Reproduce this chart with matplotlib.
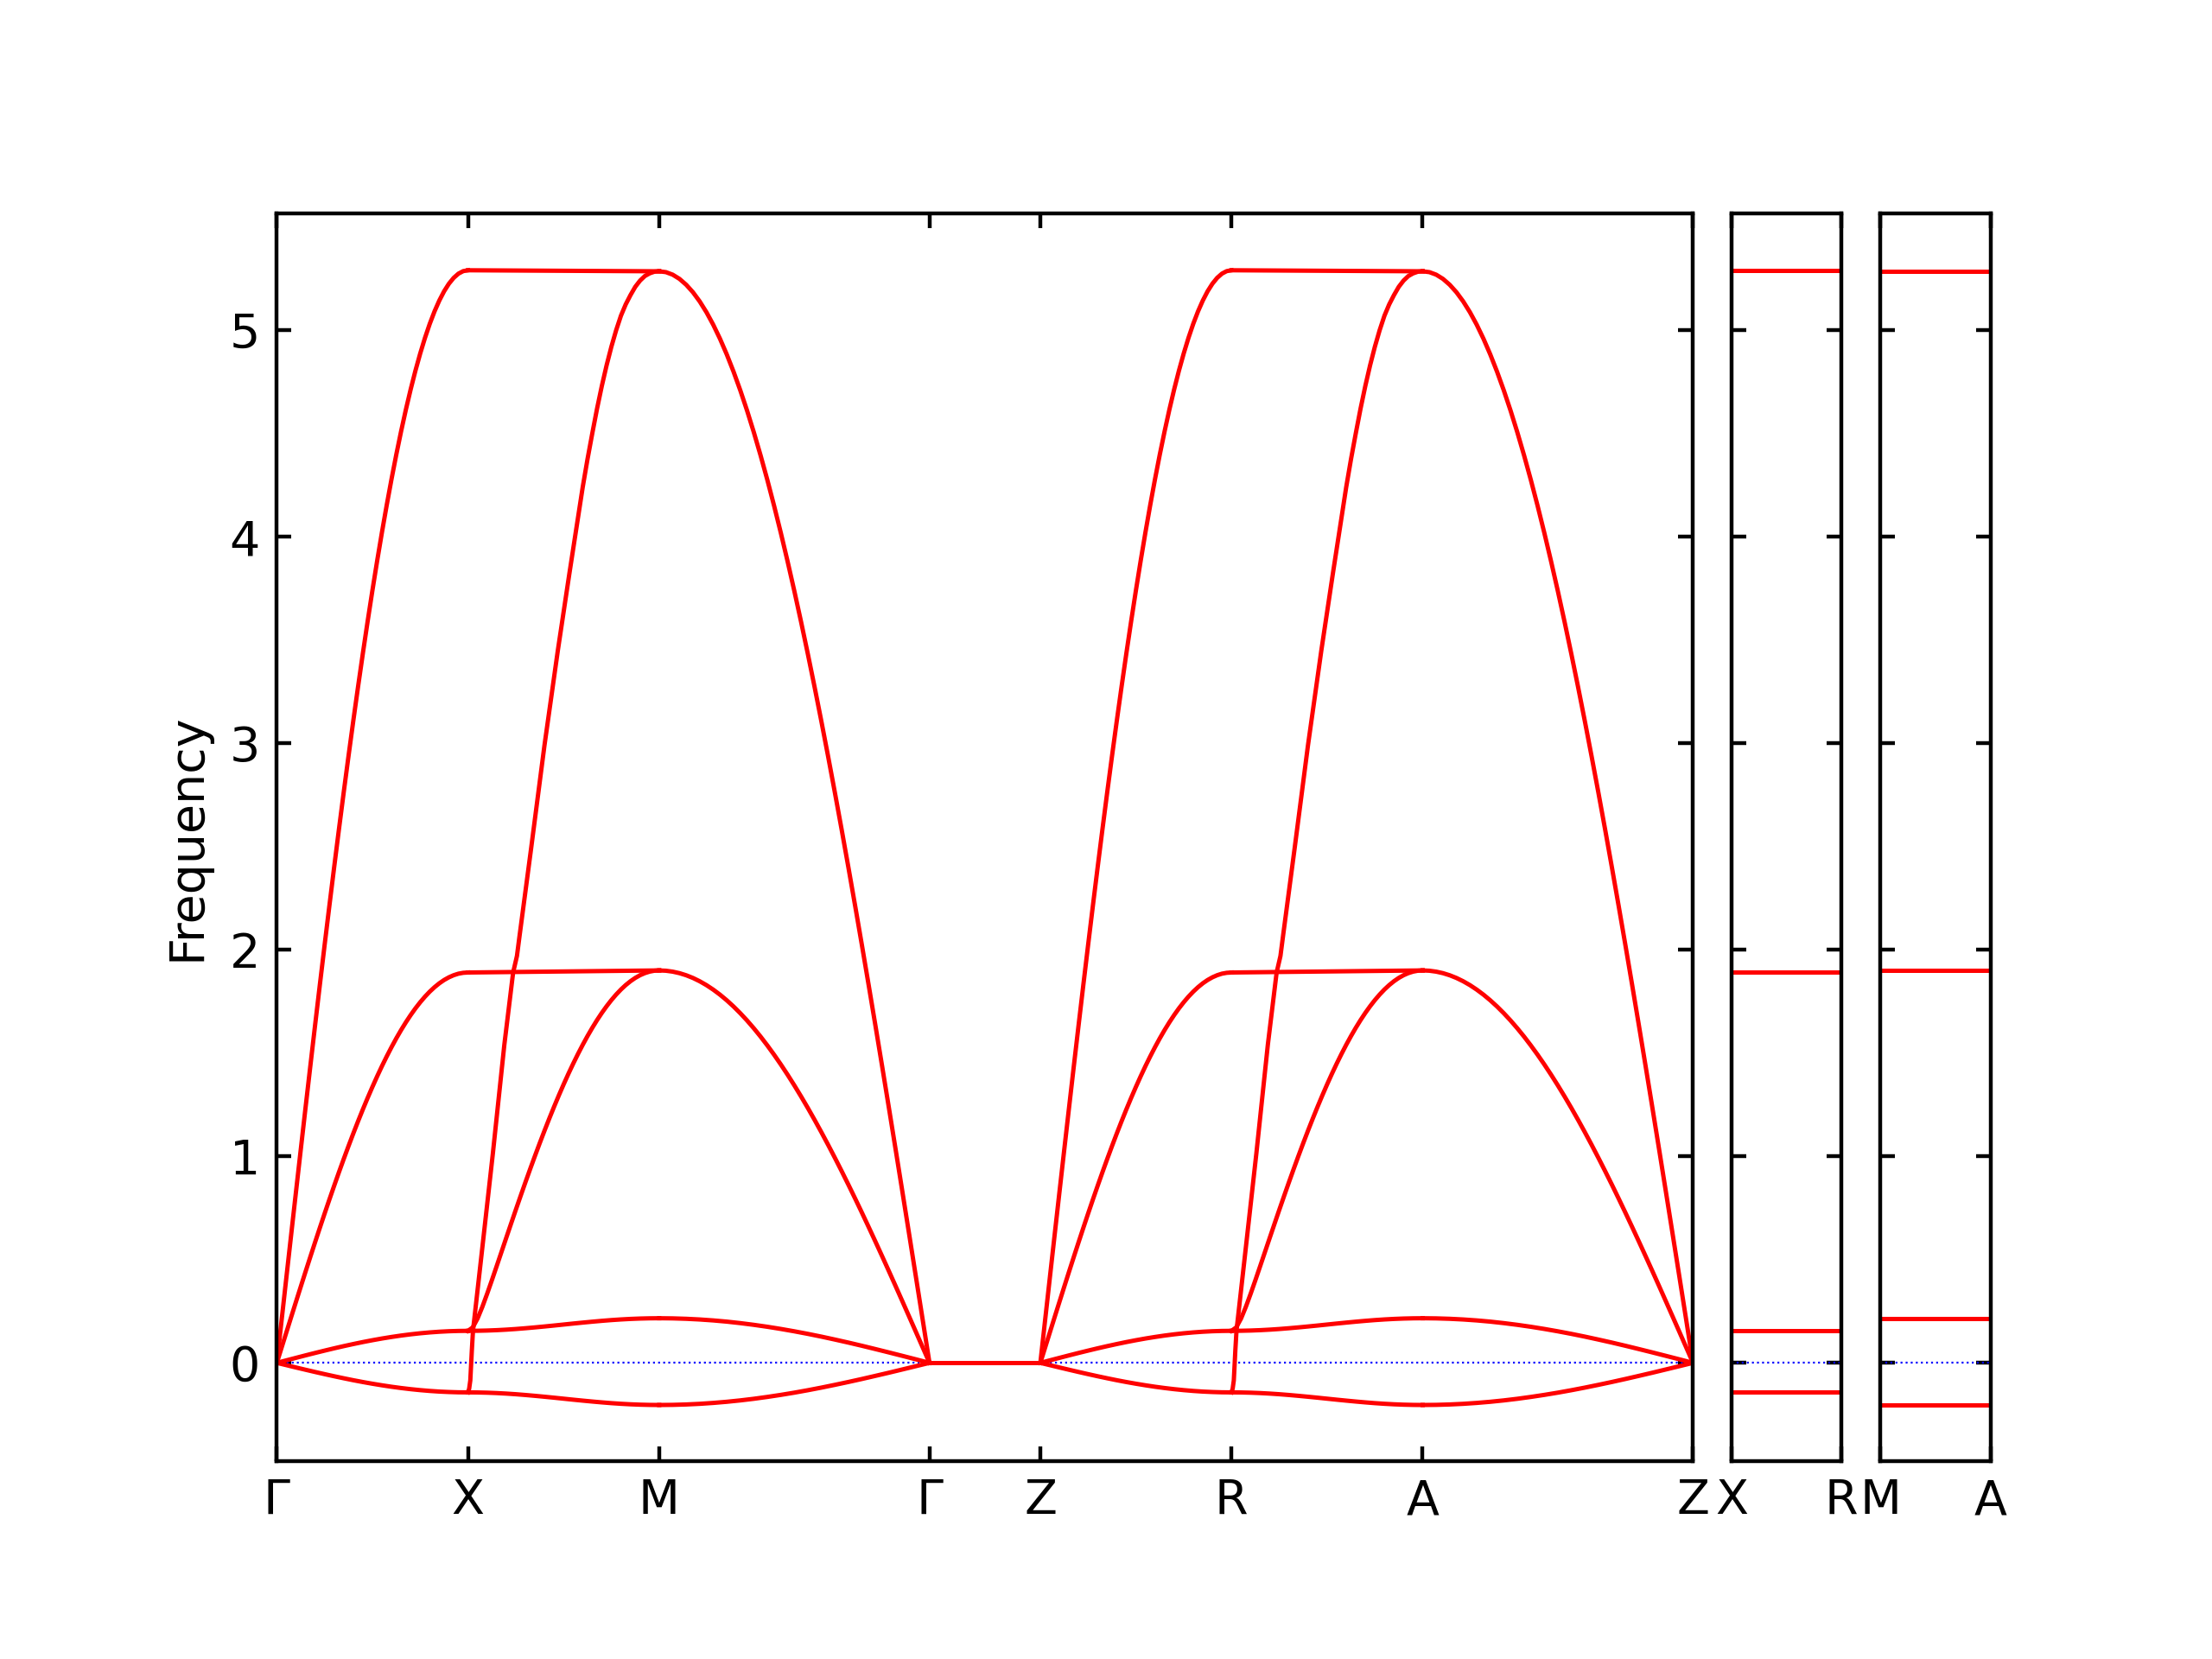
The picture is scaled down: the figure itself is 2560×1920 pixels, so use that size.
import matplotlib

matplotlib.use("Agg")
import matplotlib.pyplot as plt
import numpy as np

# fractional positions along a path segment (fine grid for the large bands,
# coarse grid for the small, nearly flat ones)
K_FINE = [0.0, 0.025, 0.05, 0.075, 0.1, 0.125, 0.15, 0.175, 0.2, 0.225,
          0.25, 0.275, 0.3, 0.325, 0.35, 0.375, 0.4, 0.425, 0.45, 0.475,
          0.5, 0.525, 0.55, 0.575, 0.6, 0.625, 0.65, 0.675, 0.7, 0.725,
          0.75, 0.775, 0.8, 0.825, 0.85, 0.875, 0.9, 0.925, 0.95, 0.975, 1.0]
K_GRID = [0.0, 0.05, 0.10, 0.15, 0.20, 0.25, 0.30, 0.35, 0.40, 0.45, 0.50,
          0.55, 0.60, 0.65, 0.70, 0.75, 0.80, 0.85, 0.90, 0.95, 1.0]

# Gamma -> X
GX_TOP = [0.0, 0.2077, 0.4151, 0.6218, 0.8275, 1.0320, 1.2350, 1.4359, 1.6347, 1.8310,
          2.0244, 2.2147, 2.4016, 2.5848, 2.7640, 2.9390, 3.1094, 3.2750, 3.4356, 3.5909,
          3.7406, 3.8846, 4.0226, 4.1543, 4.2797, 4.3985, 4.5105, 4.6155, 4.7134, 4.8041,
          4.8873, 4.9630, 5.0311, 5.0914, 5.1438, 5.1884, 5.2249, 5.2533, 5.2737, 5.2859, 5.29]
GX_MID = [0.0, 0.0742, 0.1483, 0.2222, 0.2957, 0.3687, 0.4412, 0.5130, 0.5840, 0.6542,
          0.7233, 0.7913, 0.8580, 0.9235, 0.9875, 1.0500, 1.1109, 1.1701, 1.2275, 1.2829,
          1.3364, 1.3879, 1.4372, 1.4842, 1.5290, 1.5715, 1.6115, 1.6490, 1.6840, 1.7164,
          1.7461, 1.7732, 1.7975, 1.8190, 1.8378, 1.8537, 1.8667, 1.8769, 1.8843, 1.8885, 1.89]
GX_LOW = [
    [0.0, 0.0122, 0.0242, 0.0362, 0.0479, 0.0593, 0.0704, 0.0810, 0.0911, 0.1007, 0.1096,
     0.1179, 0.1254, 0.1322, 0.1381, 0.1432, 0.1474, 0.1507, 0.1531, 0.1545, 0.155],
    [0.0, -0.0112, -0.0224, -0.0334, -0.0442, -0.0547, -0.0649, -0.0747, -0.0841, -0.0929, -0.1011,
     -0.1087, -0.1157, -0.1219, -0.1274, -0.1321, -0.1360, -0.1391, -0.1412, -0.1426, -0.143],
]

# X -> M
XM_FLAT = [(5.29, 5.285), (1.89, 1.90)]
XM_MID = [0.155, 0.1719, 0.2147, 0.2712, 0.3343, 0.4006, 0.4685, 0.5369, 0.6054, 0.6735,
          0.7411, 0.8078, 0.8736, 0.9382, 1.0015, 1.0634, 1.1238, 1.1826, 1.2396, 1.2947,
          1.3480, 1.3992, 1.4483, 1.4952, 1.5398, 1.5821, 1.6220, 1.6595, 1.6944, 1.7267,
          1.7564, 1.7834, 1.8077, 1.8292, 1.8479, 1.8638, 1.8768, 1.8869, 1.8942, 1.8986, 1.90]
XM_LOW = [
    [0.155, 0.1554, 0.1565, 0.1583, 0.1608, 0.1639, 0.1676, 0.1717, 0.1761, 0.1807, 0.1855,
     0.1903, 0.1949, 0.1993, 0.2034, 0.2071, 0.2102, 0.2127, 0.2145, 0.2156, 0.216],
    [-0.143, -0.1434, -0.1445, -0.1463, -0.1488, -0.1519, -0.1556, -0.1597, -0.1641, -0.1687, -0.1735,
     -0.1783, -0.1829, -0.1873, -0.1914, -0.1951, -0.1982, -0.2007, -0.2025, -0.2036, -0.204],
]
XM_STEEP_K = [0.0, 0.006, 0.012, 0.020, 0.026, 0.08, 0.13, 0.19, 0.236, 0.256, 0.27,
              0.33, 0.40, 0.47, 0.53, 0.56, 0.60, 0.625, 0.65, 0.675, 0.70, 0.725, 0.75,
              0.775, 0.80, 0.825, 0.85, 0.875, 0.90, 0.925, 0.95, 0.975, 1.0]
XM_STEEP_F = [-0.143, -0.125, -0.085, 0.06, 0.155, 0.60, 1.014, 1.54, 1.89, 1.97, 2.07,
              2.49, 2.99, 3.45, 3.82, 4.00, 4.24, 4.375, 4.50, 4.62, 4.73, 4.83, 4.92,
              5.00, 5.07, 5.125, 5.17, 5.21, 5.24, 5.262, 5.275, 5.283, 5.285]

# M -> Gamma
MG_TOP = [5.285, 5.2809, 5.2687, 5.2484, 5.2199, 5.1835, 5.1390, 5.0866, 5.0264, 4.9583,
          4.8827, 4.7995, 4.7090, 4.6112, 4.5062, 4.3943, 4.2757, 4.1504, 4.0188, 3.8809,
          3.7371, 3.5875, 3.4323, 3.2719, 3.1065, 2.9362, 2.7614, 2.5824, 2.3993, 2.2126,
          2.0225, 1.8292, 1.6332, 1.4346, 1.2338, 1.0311, 0.8267, 0.6212, 0.4147, 0.2075, 0.0]
MG_MID = [1.9, 1.8985, 1.8941, 1.8868, 1.8766, 1.8635, 1.8475, 1.8287, 1.8070, 1.7826,
          1.7554, 1.7255, 1.6929, 1.6578, 1.6200, 1.5798, 1.5371, 1.4921, 1.4448, 1.3952,
          1.3435, 1.2897, 1.2340, 1.1763, 1.1168, 1.0556, 0.9928, 0.9284, 0.8626, 0.7955,
          0.7271, 0.6576, 0.5871, 0.5157, 0.4436, 0.3707, 0.2972, 0.2233, 0.1491, 0.0746, 0.0]
MG_LOW = [
    [0.216, 0.2153, 0.2133, 0.2100, 0.2054, 0.1996, 0.1924, 0.1841, 0.1747, 0.1642, 0.1527,
     0.1403, 0.1270, 0.1128, 0.0981, 0.0827, 0.0667, 0.0504, 0.0338, 0.0170, 0.0],
    [-0.204, -0.2034, -0.2015, -0.1984, -0.1940, -0.1885, -0.1818, -0.1740, -0.1650, -0.1551, -0.1443,
     -0.1325, -0.1199, -0.1065, -0.0926, -0.0781, -0.0630, -0.0477, -0.0319, -0.0160, 0.0],
]

# Gamma -> Z: all modes at zero
GZ_LEVELS = [0.0]

# side panels (flat)
XR_LEVELS = [5.29, 1.89, 0.155, -0.143]
MA_LEVELS = [5.285, 1.90, 0.216, -0.204]

LEN_GX = 1.0
LEN_XM = 1.0
LEN_MG = 1.414
LEN_GZ = 0.58

MAIN_LABELS = ["\u0393", "X", "M", "\u0393", "Z", "R", "A", "Z"]
XR_LABELS = ["X", "R"]
MA_LABELS = ["M", "A"]

YLIM = (-0.474, 5.564)
BAND_KW = dict(color="red", linewidth=0.9)
ZERO_KW = dict(color="blue", linestyle=":", linewidth=0.4)


def style_axis(ax):
    ax.tick_params(direction="in", top=True, right=True, length=3)
    ax.set_ylim(*YLIM)
    ax.set_yticks([0, 1, 2, 3, 4, 5])


def draw_segment(ax, start, length, fine=(), coarse=(), flats=()):
    for vals in fine:
        ax.plot(start + np.asarray(K_FINE) * length, vals, **BAND_KW)
    for vals in coarse:
        ax.plot(start + np.asarray(K_GRID) * length, vals, **BAND_KW)
    for a, b in flats:
        ax.plot([start, start + length], [a, b], **BAND_KW)
    return start + length


def main():
    fig = plt.figure(figsize=(6.4, 4.8), dpi=400)
    bottom, height = 0.1195, 0.7517
    ax = fig.add_axes([0.12516, bottom, 0.6402, height])
    ax_xr = fig.add_axes([0.7828, bottom, 0.0495, height])
    ax_ma = fig.add_axes([0.8500, bottom, 0.0500, height])

    total = 2 * (LEN_GX + LEN_XM + LEN_MG) + LEN_GZ
    ax.axhline(0, **ZERO_KW)

    ticks = [0.0]
    pos = 0.0
    for rep in range(2):
        pos = draw_segment(ax, pos, LEN_GX, fine=[GX_TOP, GX_MID], coarse=GX_LOW)
        ticks.append(pos)
        ax.plot(pos + np.asarray(XM_STEEP_K) * LEN_XM, XM_STEEP_F, **BAND_KW)
        pos = draw_segment(ax, pos, LEN_XM, fine=[XM_MID], coarse=XM_LOW, flats=XM_FLAT)
        ticks.append(pos)
        pos = draw_segment(ax, pos, LEN_MG, fine=[MG_TOP, MG_MID], coarse=MG_LOW)
        ticks.append(pos)
        if rep == 0:
            pos = draw_segment(ax, pos, LEN_GZ, flats=[(v, v) for v in GZ_LEVELS])
            ticks.append(pos)

    ax.set_xlim(0, total)
    ax.set_xticks(ticks)
    ax.set_xticklabels(MAIN_LABELS)
    style_axis(ax)
    ax.set_ylabel("Frequency")

    for side, levels, labels in ((ax_xr, XR_LEVELS, XR_LABELS), (ax_ma, MA_LEVELS, MA_LABELS)):
        side.axhline(0, **ZERO_KW)
        for v in levels:
            side.plot([0, LEN_GZ], [v, v], **BAND_KW)
        side.set_xlim(0, LEN_GZ)
        side.set_xticks([0, LEN_GZ])
        side.set_xticklabels(labels)
        style_axis(side)
        side.set_yticklabels([])

    fig.savefig("out.png", dpi=400)
    plt.close(fig)


if __name__ == "__main__":
    main()
